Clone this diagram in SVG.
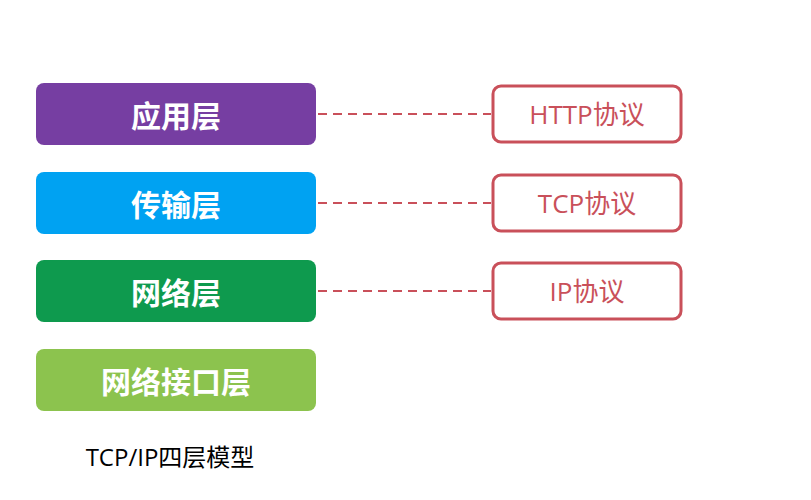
<svg xmlns="http://www.w3.org/2000/svg" width="811" height="500" viewBox="0 0 811 500">
<style>
.layer text{font-family:"Noto Sans CJK SC",sans-serif;font-weight:bold;font-size:30px;fill:#fff;text-anchor:middle;dominant-baseline:central}
.proto rect{fill:#fff;stroke:#C9505A;stroke-width:3}
.proto text{font-family:"Open Sans","Noto Sans CJK SC",sans-serif;font-size:26px;fill:#C9505A;text-anchor:middle;dominant-baseline:central}
.conn line{stroke:#C9505A;stroke-width:2;stroke-dasharray:9,6}
</style>
<rect width="811" height="500" fill="#fff"/>
<g id="app" class="layer"><rect x="36" y="83" width="280" height="62" rx="8" fill="#763EA2"/><text x="176" y="114">应用层</text></g>
<g id="transport" class="layer"><rect x="36" y="172" width="280" height="62" rx="8" fill="#00A2F2"/><text x="176" y="203">传输层</text></g>
<g id="network" class="layer"><rect x="36" y="260" width="280" height="62" rx="8" fill="#0E9A4E"/><text x="176" y="291">网络层</text></g>
<g id="link" class="layer"><rect x="36" y="349" width="280" height="62" rx="8" fill="#8CC34E"/><text x="176" y="380">网络接口层</text></g>
<g id="http" class="proto"><rect x="493" y="86" width="188" height="56" rx="8"/><text x="587" y="114">HTTP协议</text></g>
<g id="tcp" class="proto"><rect x="493" y="175" width="188" height="56" rx="8"/><text x="587" y="203">TCP协议</text></g>
<g id="ip" class="proto"><rect x="493" y="263" width="188" height="56" rx="8"/><text x="587" y="291">IP协议</text></g>
<g id="connectors" class="conn">
<line x1="318" y1="114" x2="491" y2="114"/>
<line x1="318" y1="203" x2="491" y2="203"/>
<line x1="318" y1="291" x2="491" y2="291"/>
</g>
<text x="170" y="466" text-anchor="middle" font-family="'Open Sans','Noto Sans CJK SC',sans-serif" font-size="24" fill="#000">TCP/IP四层模型</text>
</svg>
